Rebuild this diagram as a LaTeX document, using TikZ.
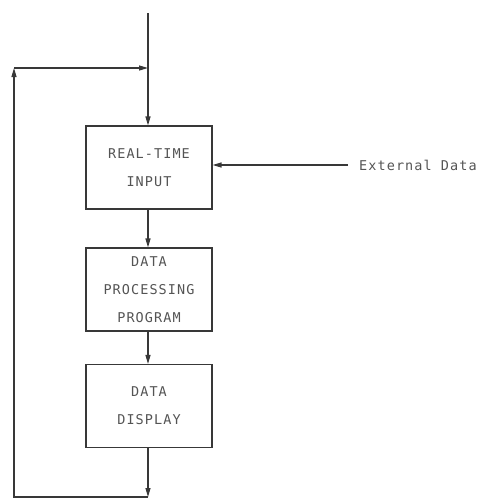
\documentclass[tikz,border=0pt]{standalone}
\usepackage{fontspec}
\newfontfamily\plotfont[LetterSpace=8]{DejaVu Sans Mono}
\usetikzlibrary{positioning}
\usetikzlibrary{arrows.meta}
\definecolor{inkline}{gray}{0.22}
\definecolor{inktext}{gray}{0.33}
\tikzset{x=1pt, y=-1pt,
block/.style={ % Sets the properties for each box
draw=inkline,
line width=1.1pt,
minimum width=126pt,
minimum height=83pt,
align=center,
text=inktext,
font=\plotfont\fontsize{13.5}{28}\selectfont},
label text/.style={ % Free text beside the chart
text=inktext,
font=\plotfont\fontsize{13.5}{15}\selectfont},
flow/.style={ % Sets the properties for each connector
draw=inkline,
line width=1.2pt,
-{Triangle[length=9pt,width=5pt]}}}

\begin{document}
\begin{tikzpicture}
\useasboundingbox (0,0) rectangle (479,499);
\node[block] (input) at (149,167.5) {REAL-TIME\\INPUT};
\node[block] (process) at (149,289.5) {DATA\\PROCESSING\\PROGRAM};
\node[block] (display) at (149,406) {DATA\\DISPLAY};
\node[label text, anchor=west, inner xsep=11pt, inner ysep=0pt] (ext) at (348,165) {External Data};
\coordinate (top) at (148,13);
\coordinate (join) at (148,68);
\coordinate (bot) at (148,497);
\coordinate (botleft) at (14,497);
\coordinate (topleft) at (14,68);
% main line
\draw[flow] (top) -- (input.north -| top);
\draw[flow] (input.south -| top) -- (process.north -| top);
\draw[flow] (process.south -| top) -- (display.north -| top);
\draw[flow] (display.south -| top) -- (bot);
\draw[flow] (ext.west) -- (input.east |- ext.west);
% feedback loop
\draw[flow] (bot) -- (botleft) -- (topleft);
\draw[flow] (topleft) -- (join);
\end{tikzpicture}
\end{document}
